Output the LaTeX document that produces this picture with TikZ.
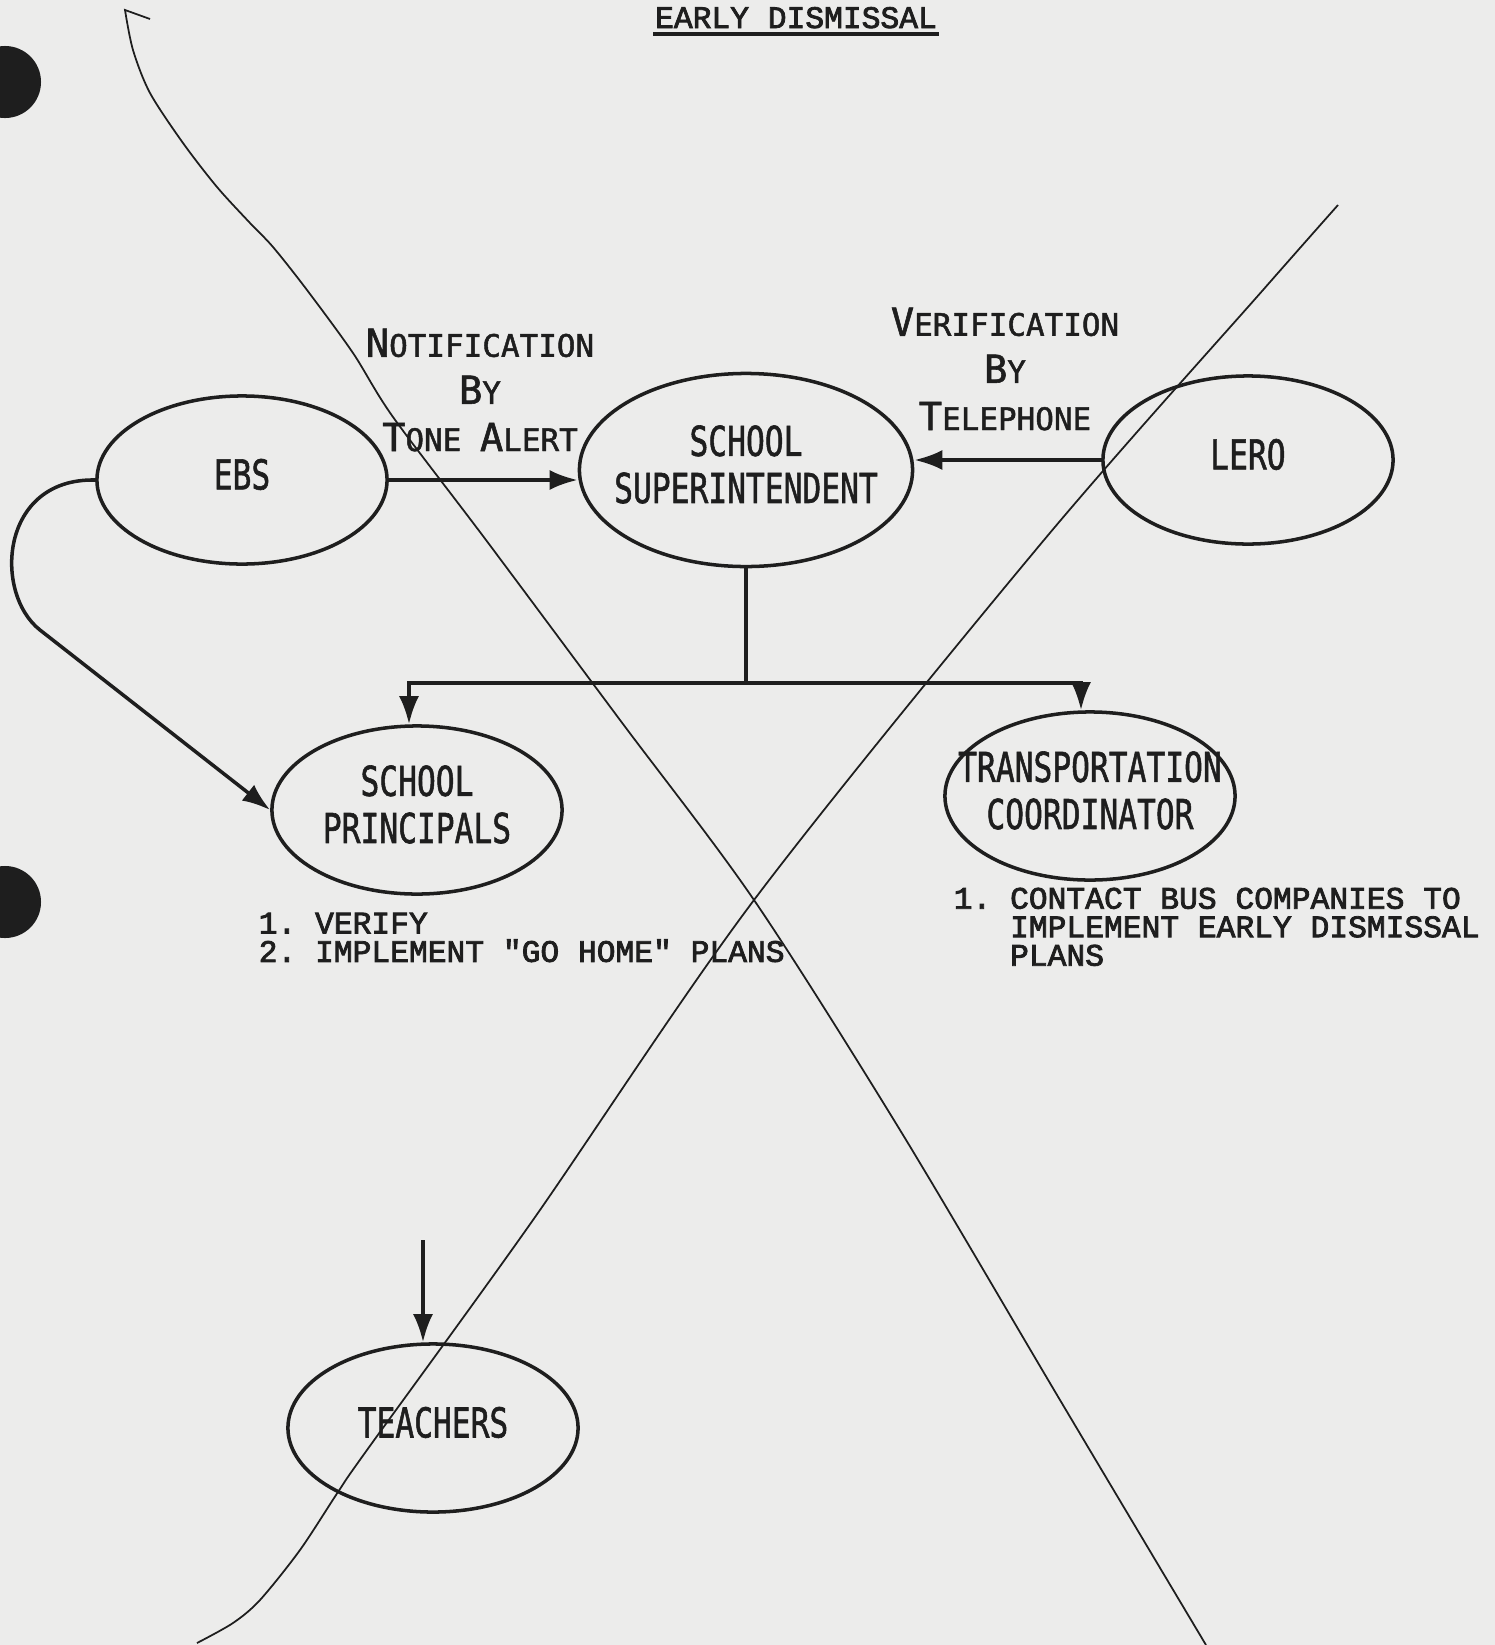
\documentclass[tikz,border=0pt]{standalone}
\usepackage{fontspec}
\usepackage{graphicx}
\usetikzlibrary{arrows.meta,positioning,shapes.geometric,calc}
\setmonofont[FakeBold=2.5]{Liberation Mono}
\newfontfamily\letterfont[FakeBold=1.5]{DejaVu Sans Mono}
\definecolor{paper}{RGB}{236,236,235}
\definecolor{ink}{RGB}{30,30,30}
\newcommand{\ovaltext}[1]{\makebox[0pt]{\scalebox{0.76}[1]{\letterfont\fontsize{11.7pt}{13.4pt}\selectfont
  \begin{tabular}{@{}c@{}}#1\end{tabular}}}}
\newcommand{\capsc}[2]{{\fontsize{11pt}{13.4pt}\selectfont #1}#2}

\begin{document}
\begin{tikzpicture}[x=0.01cm, y=-0.01cm, line width=1pt, color=ink,
    oval/.style={draw, ellipse, inner sep=0pt, minimum width=2.9cm, minimum height=1.68cm},
    flow/.style={-{Latex[length=2.8mm,width=2mm]}},
    tag/.style={font=\letterfont\fontsize{8.8pt}{13.4pt}\selectfont, align=center, inner sep=0pt},
    note/.style={font=\ttfamily\fontsize{8.9pt}{8.1pt}\selectfont, align=left, inner sep=0pt, anchor=north west},
    cancel/.style={line width=0.5pt}]
  \fill[paper] (0,0) rectangle (1495,1645);
  \useasboundingbox (0,0) rectangle (1495,1645);
  \fill (5,82) circle[radius=0.36cm];
  \fill (5,902) circle[radius=0.36cm];

  \node[font=\ttfamily\fontsize{8.9pt}{10pt}\selectfont, inner sep=0pt, anchor=base]
    (title) at (796,28) {EARLY DISMISSAL};
  \draw ($(title.base west)+(0,6)$) -- ($(title.base east)+(0,6)$);

  \node[oval] (ebs) at (242,480) {\ovaltext{EBS}};
  \node[oval, minimum width=3.33cm, minimum height=1.93cm] (sup) at (746,470)
    {\ovaltext{SCHOOL\\SUPERINTENDENT}};
  \node[oval] (lero) at (1248,460) {\ovaltext{LERO}};
  \node[oval] (prin) at (417,810) {\ovaltext{SCHOOL\\PRINCIPALS}};
  \node[oval] (trans) at (1090,796) {\ovaltext{TRANSPORTATION\\COORDINATOR}};
  \node[oval] (teach) at (433,1428) {\ovaltext{TEACHERS}};

  \node[tag] (notif) at (480,390)
    {\capsc{N}{OTIFICATION}\\\capsc{B}{Y}\\\capsc{T}{ONE} \capsc{A}{LERT}};
  \node[tag] (verif) at (1005,369)
    {\capsc{V}{ERIFICATION}\\\capsc{B}{Y}\\\capsc{T}{ELEPHONE}};

  \node[note] (prinnote) at (257,911) {1. VERIFY\\2. IMPLEMENT "GO HOME" PLANS};
  \node[note] (transnote) at (952,886)
    {1. CONTACT BUS COMPANIES TO\\\phantom{1. }IMPLEMENT EARLY DISMISSAL\\\phantom{1. }PLANS};

  \coordinate (split) at (746,683);
  \coordinate (bend) at (40,630);
  \coordinate (tin) at (423,1240);
  \draw[flow] (ebs.east) -- (ebs.east -| sup.west);
  \draw[flow] (lero.west) -- (lero.west -| sup.east);
  \draw (sup.south) -- (split);
  \draw[flow] (split) -| ($(prin.north)+(-8,0)$);
  \draw[flow] (split) -| ($(trans.north)+(-9,0)$);
  \draw[flow] (ebs.west) .. controls (0,478) and (-7,593) .. (bend) -- (prin.west);
  \draw[flow] (tin) -- (tin |- teach.north);

  \draw[cancel] (150,19) -- plot[smooth] coordinates {(125,10) (133,50) (150,93) (183,143)
    (217,187) (250,223) (273,247) (307,290) (353,353) (393,417) (486,540) (620,720)
    (754,900) (900,1130) (1060,1400) (1206,1645)};
  \draw[cancel] plot[smooth] coordinates {(1338,205) (1263,290) (1044,540) (754,900)
    (533,1220) (367,1450) (338,1492) (300,1550) (260,1600) (233,1623) (197,1643)};
\end{tikzpicture}
\end{document}
